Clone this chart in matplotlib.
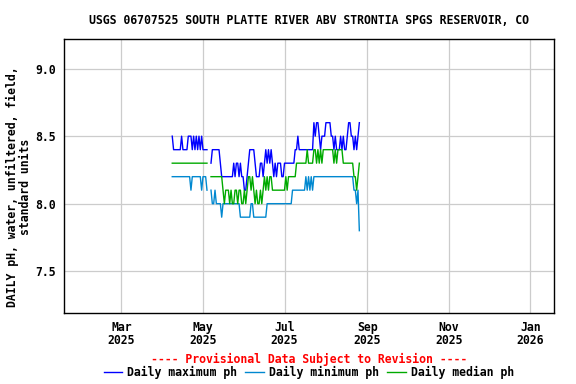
import matplotlib
matplotlib.use("Agg")
import matplotlib.pyplot as plt
import numpy as np
import pandas as pd
from matplotlib.lines import Line2D

# daily pH values, Apr 8 2025 -> Aug 26 2025 (nan = missing days)
nan = np.nan
start_date = "2025-04-08"

ph_max = [8.5, 8.4, 8.4, 8.4, 8.4, 8.4, 8.4, 8.5, 8.4, 8.4,
          8.4, 8.4, 8.5, 8.5, 8.5, 8.4, 8.5, 8.4, 8.5, 8.4,
          8.5, 8.4, 8.5, 8.4, 8.4, 8.4, 8.4, nan, nan, 8.3,
          8.4, 8.4, 8.4, 8.4, 8.4, 8.4, 8.3, 8.2, 8.2, 8.2,
          8.2, 8.2, 8.2, 8.2, 8.2, 8.2, 8.3, 8.2, 8.3, 8.3,
          8.2, 8.3, 8.2, 8.2, 8.1, 8.1, 8.2, 8.3, 8.4, 8.4,
          8.4, 8.4, 8.3, 8.2, 8.2, 8.2, 8.3, 8.3, 8.2, 8.3,
          8.4, 8.3, 8.4, 8.3, 8.4, 8.3, 8.2, 8.3, 8.2, 8.3,
          8.3, 8.3, 8.2, 8.2, 8.3, 8.3, 8.3, 8.3, 8.3, 8.3,
          8.3, 8.3, 8.4, 8.4, 8.5, 8.4, 8.4, 8.4, 8.4, 8.4,
          8.4, 8.4, 8.4, 8.4, 8.4, 8.4, 8.6, 8.5, 8.6, 8.6,
          8.5, 8.4, 8.5, 8.5, 8.5, 8.6, 8.6, 8.6, 8.6, 8.5,
          8.5, 8.4, 8.5, 8.4, 8.4, 8.4, 8.5, 8.4, 8.5, 8.4,
          8.4, 8.5, 8.6, 8.6, 8.5, 8.5, 8.4, 8.5, 8.4, 8.5,
          8.6]

ph_min = [8.2, 8.2, 8.2, 8.2, 8.2, 8.2, 8.2, 8.2, 8.2, 8.2,
          8.2, 8.2, 8.2, 8.2, 8.1, 8.2, 8.2, 8.2, 8.2, 8.2,
          8.2, 8.2, 8.1, 8.2, 8.2, 8.2, 8.1, nan, nan, 8.1,
          8.0, 8.0, 8.1, 8.0, 8.0, 8.0, 8.0, 7.9, 8.0, 8.0,
          8.0, 8.0, 8.0, 8.0, 8.0, 8.0, 8.0, 8.0, 8.0, 8.0,
          8.0, 7.9, 7.9, 7.9, 7.9, 7.9, 7.9, 7.9, 7.9, 8.0,
          8.0, 7.9, 7.9, 7.9, 7.9, 7.9, 7.9, 7.9, 7.9, 7.9,
          7.9, 8.0, 8.0, 8.0, 8.0, 8.0, 8.0, 8.0, 8.0, 8.0,
          8.0, 8.0, 8.0, 8.0, 8.0, 8.0, 8.0, 8.0, 8.0, 8.0,
          8.1, 8.1, 8.1, 8.1, 8.1, 8.1, 8.1, 8.1, 8.1, 8.1,
          8.2, 8.1, 8.2, 8.1, 8.2, 8.1, 8.2, 8.2, 8.2, 8.2,
          8.2, 8.2, 8.2, 8.2, 8.2, 8.2, 8.2, 8.2, 8.2, 8.2,
          8.2, 8.2, 8.2, 8.2, 8.2, 8.2, 8.2, 8.2, 8.2, 8.2,
          8.2, 8.2, 8.2, 8.2, 8.2, 8.2, 8.1, 8.1, 8.0, 8.1,
          7.8]

ph_med = [8.3, 8.3, 8.3, 8.3, 8.3, 8.3, 8.3, 8.3, 8.3, 8.3,
          8.3, 8.3, 8.3, 8.3, 8.3, 8.3, 8.3, 8.3, 8.3, 8.3,
          8.3, 8.3, 8.3, 8.3, 8.3, 8.3, 8.3, nan, nan, 8.2,
          8.2, 8.2, 8.2, 8.2, 8.2, 8.2, 8.2, 8.2, 8.1, 8.0,
          8.1, 8.1, 8.1, 8.0, 8.1, 8.0, 8.0, 8.1, 8.1, 8.0,
          8.1, 8.1, 8.0, 8.0, 8.1, 8.0, 8.1, 8.2, 8.2, 8.1,
          8.2, 8.1, 8.0, 8.1, 8.0, 8.0, 8.1, 8.0, 8.1, 8.2,
          8.1, 8.2, 8.1, 8.2, 8.2, 8.1, 8.1, 8.1, 8.1, 8.1,
          8.1, 8.1, 8.1, 8.1, 8.1, 8.2, 8.1, 8.2, 8.2, 8.2,
          8.2, 8.2, 8.2, 8.3, 8.3, 8.3, 8.3, 8.3, 8.3, 8.3,
          8.3, 8.4, 8.3, 8.3, 8.3, 8.3, 8.4, 8.4, 8.3, 8.4,
          8.3, 8.4, 8.3, 8.4, 8.4, 8.4, 8.4, 8.4, 8.4, 8.4,
          8.4, 8.3, 8.4, 8.3, 8.4, 8.4, 8.4, 8.4, 8.3, 8.3,
          8.3, 8.3, 8.3, 8.3, 8.3, 8.3, 8.2, 8.2, 8.1, 8.2,
          8.3]

tick_dates = ["2025-03-01", "2025-05-01", "2025-07-01", "2025-09-01", "2025-11-01", "2026-01-01"]
tick_labels = ["Mar\n2025", "May\n2025", "Jul\n2025", "Sep\n2025", "Nov\n2025", "Jan\n2026"]
y_ticks = [7.5, 8.0, 8.5, 9.0]

title = "USGS 06707525 SOUTH PLATTE RIVER ABV STRONTIA SPGS RESERVOIR, CO"
ylabel = "DAILY pH, water, unfiltered, field,\nstandard units"

dates = pd.date_range(start_date, periods=len(ph_max), freq="D")

plt.rcParams['font.family'] = 'DejaVu Sans Mono'
plt.rcParams['font.weight'] = 'bold'
fs = 8.3

fig = plt.figure(figsize=(5.76, 3.84), dpi=100)
ax = fig.add_axes([64/576, 71/384, 490/576, 274/384])

c_max = '#0000ff'
c_min = '#0088d0'
c_med = '#00aa00'

ax.plot(dates, ph_max, color=c_max, lw=1)
ax.plot(dates, ph_min, color=c_min, lw=1)
ax.plot(dates, ph_med, color=c_med, lw=1)

ax.set_xlim(pd.Timestamp("2025-01-17"), pd.Timestamp("2026-01-18 16:00"))
ax.set_ylim(7.19, 9.22)

ax.set_xticks(pd.to_datetime(tick_dates))
ax.set_xticklabels(tick_labels, fontsize=fs, fontweight='bold', linespacing=1.0)
ax.set_yticks(y_ticks)
ax.set_yticklabels(["%.1f" % v for v in y_ticks], fontsize=fs, fontweight='bold')
ax.tick_params(axis='x', length=0, pad=6)
ax.tick_params(axis='y', length=0, pad=6)

ax.grid(True, color='#cccccc', lw=0.9)
ax.set_axisbelow(True)
for s in ax.spines.values():
    s.set_linewidth(1)
    s.set_color('black')

ax.set_ylabel(ylabel, fontsize=fs, fontweight='bold', linespacing=1.0)
ax.yaxis.set_label_coords(-0.065, 0.46)
ax.set_title(title, fontsize=fs, fontweight='bold', pad=11)

fig.text(0.536, 0.065, "---- Provisional Data Subject to Revision ----",
         color='red', ha='center', va='center', fontsize=fs, fontweight='bold')

handles = [Line2D([], [], color=c_max, lw=1),
           Line2D([], [], color=c_min, lw=1),
           Line2D([], [], color=c_med, lw=1)]
fig.legend(handles, ["Daily maximum ph", "Daily minimum ph", "Daily median ph"],
           loc='center', bbox_to_anchor=(0.536, 0.029), ncol=3, frameon=False,
           fontsize=fs, handlelength=1.6, handletextpad=0.45, columnspacing=0.7,
           borderpad=0, borderaxespad=0)

fig.savefig("out.png", dpi=100)
